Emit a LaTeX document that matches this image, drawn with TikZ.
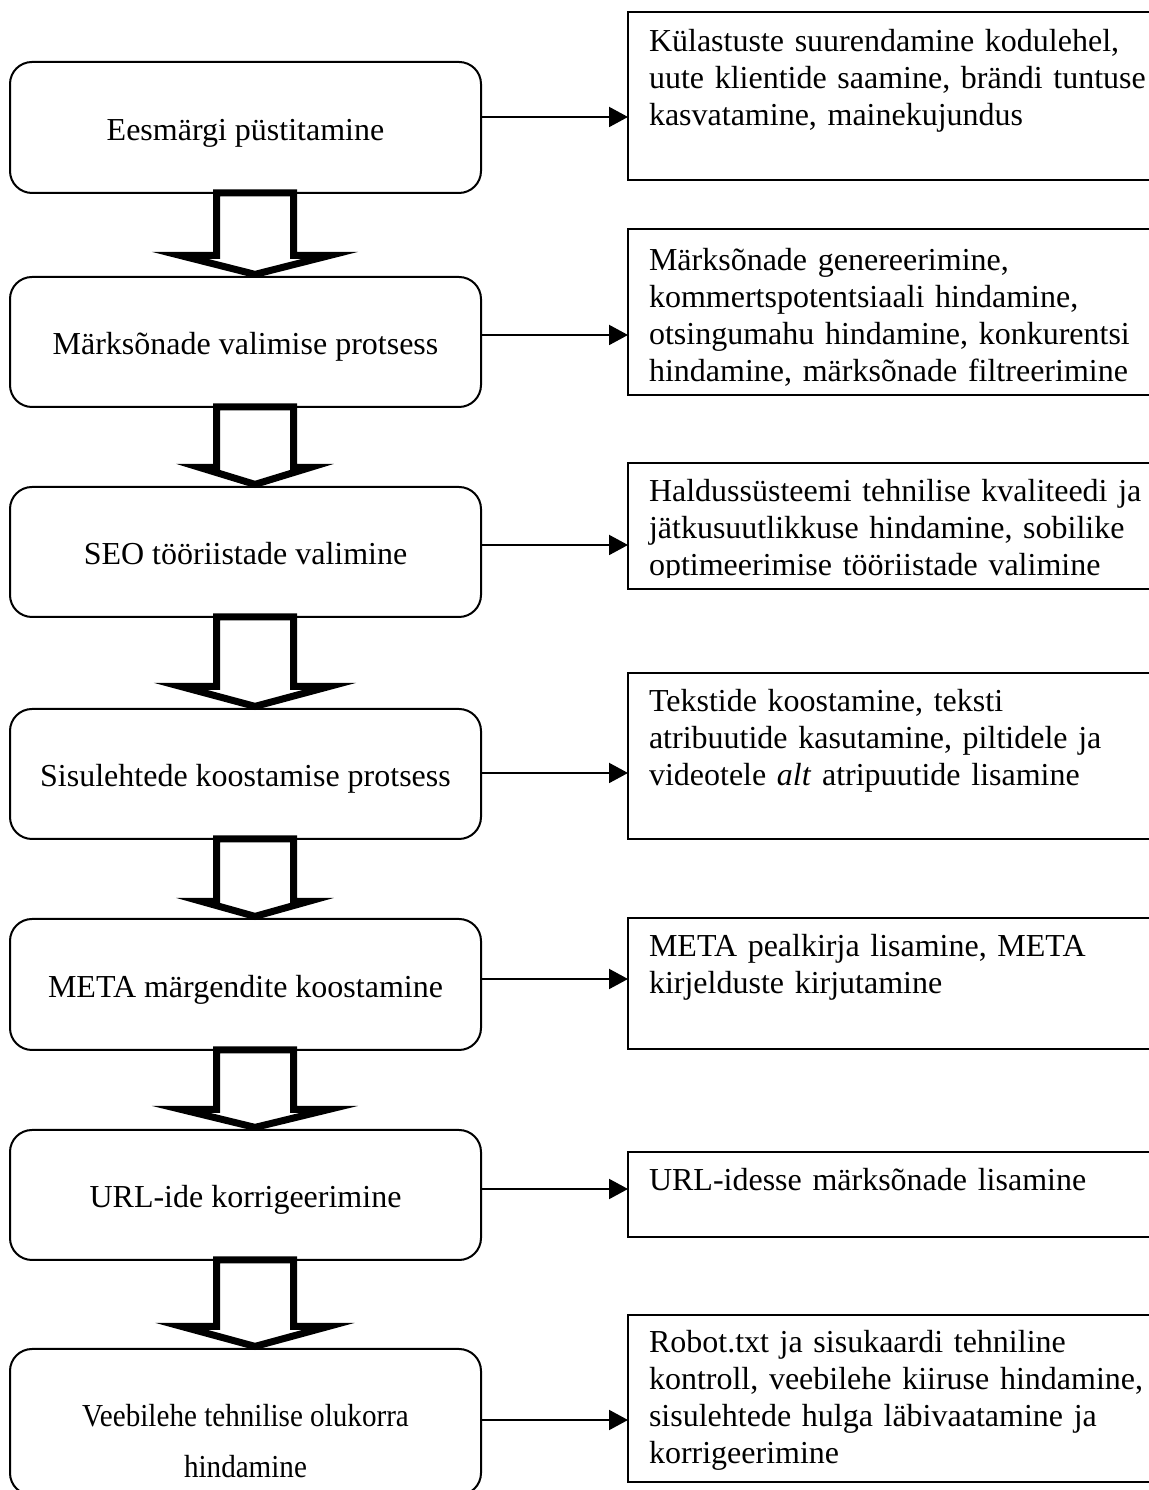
\documentclass[tikz,border=0pt]{standalone}
\usepackage{fontspec}
\setmainfont{Liberation Serif}
\newfontfamily\narrowserif[FakeStretch=0.91]{Liberation Serif}
\usetikzlibrary{arrows.meta,calc}
\setlength\parindent{0pt}
\lineskiplimit=-100pt

\tikzset{
  stage/.style={draw, line width=2pt, rounded corners=22pt, minimum width=471pt,
    minimum height=130pt, inner sep=0pt, outer sep=0pt,
    font=\fontsize{32pt}{36.8pt}\selectfont, text height=26pt, text depth=0pt},
  detail/.style={draw, line width=2pt, minimum width=540pt, inner sep=0pt,
    outer sep=0pt, anchor=north west},
  detailtext/.style={anchor=north west, inner sep=0pt, outer sep=0pt,
    text width=520pt, align=left,
    font=\fontsize{32pt}{36.8pt}\selectfont},
  link/.style={line width=2pt, -{Triangle[length=19pt,width=20pt]}},
  flowarrow/.style={draw=black, fill=white, line width=7pt, line join=miter,
    miter limit=10},
}

% hollow block arrow from the bottom of #1 down to the top of #2;
% #3 = half width of the head, #4 = height of the head
\newcommand\flowdown[4]{%
  \draw[flowarrow] let \p1=(#1.south), \p2=(#2.north) in
    (\x1-29pt,\y1) -- (\x1-29pt,\y2+2.6pt+#4) -- (\x1+9.5pt-#3,\y2+2.6pt+#4)
    -- (\x1+9.5pt,\y2+2.6pt) -- (\x1+9.5pt+#3,\y2+2.6pt+#4)
    -- (\x1+48pt,\y2+2.6pt+#4) -- (\x1+48pt,\y1) -- cycle;
}

\begin{document}
\begin{tikzpicture}[x=1pt,y=1pt]
\useasboundingbox (0,0) rectangle (1148,1490);
\fill[white] (0,0) rectangle (1148,1490);

% process steps
\node[stage, minimum height=131pt] (l1) at (245.5,1362.5) {Eesmärgi püstitamine};
\node[stage] (l2) at (245.5,1148) {Märksõnade valimise protsess};
\node[stage] (l3) at (245.5,938) {SEO tööriistade valimine};
\node[stage] (l4) at (245.5,716) {Sisulehtede koostamise protsess};
\node[stage, minimum height=131pt] (l5) at (245.5,505.5) {META märgendite koostamine};
\node[stage] (l6) at (245.5,295) {URL-ide korrigeerimine};
\node[stage, minimum height=146pt, text height=60pt, text depth=50pt,
  font=\narrowserif\fontsize{32pt}{51pt}\selectfont] (l7) at (245.5,68)
  {\vtop{\hbox to 460pt{\hss Veebilehe tehnilise olukorra\hss}\hbox to 460pt{\hss hindamine\hss}}};

% activities of each step
\node[detail, minimum height=168pt] (r1) at (628,1478) {};
\node[detailtext] (r1t) at ([xshift=21pt,yshift=-10pt]r1.north west)
  {\rule{0pt}{30pt}Külastuste suurendamine kodulehel,\\
   uute klientide saamine, brändi tuntuse\\
   kasvatamine, mainekujundus};

\node[detail, minimum height=166pt] (r2) at (628,1261) {};
\node[detailtext] (r2t) at ([xshift=21pt,yshift=-12pt]r2.north west)
  {\rule{0pt}{30pt}Märksõnade genereerimine,\\
   kommertspotentsiaali hindamine,\\
   otsingumahu hindamine, konkurentsi\\
   hindamine, märksõnade filtreerimine};

\node[detail, minimum height=126pt] (r3) at (628,1027) {};
\begin{scope}
  \clip (r3.north west) rectangle ([yshift=11pt]r3.south east);
  \node[detailtext] (r3t) at ([xshift=21pt,yshift=-9pt]r3.north west)
    {\rule{0pt}{30pt}Haldussüsteemi tehnilise kvaliteedi ja\\
     jätkusuutlikkuse hindamine, sobilike\\
     optimeerimise tööriistade valimine};
\end{scope}

\node[detail, minimum height=166pt] (r4) at (628,817) {};
\node[detailtext] (r4t) at ([xshift=21pt,yshift=-9pt]r4.north west)
  {\rule{0pt}{30pt}Tekstide koostamine, teksti\\
   atribuutide kasutamine, piltidele ja\\
   videotele \textit{alt} atripuutide lisamine};

\node[detail, minimum height=131pt] (r5) at (628,572) {};
\node[detailtext] (r5t) at ([xshift=21pt,yshift=-9pt]r5.north west)
  {\rule{0pt}{30pt}META pealkirja lisamine, META\\
   kirjelduste kirjutamine};

\node[detail, minimum height=85pt] (r6) at (628,338) {};
\node[detailtext] (r6t) at ([xshift=21pt,yshift=-9pt]r6.north west)
  {\rule{0pt}{30pt}URL-idesse märksõnade lisamine};

\node[detail, minimum height=167pt] (r7) at (628,175) {};
\node[detailtext] (r7t) at ([xshift=21pt,yshift=-8pt]r7.north west)
  {\rule{0pt}{30pt}Robot.txt ja sisukaardi tehniline\\
   kontroll, veebilehe kiiruse hindamine,\\
   sisulehtede hulga läbivaatamine ja\\
   korrigeerimine};

% links from each step to its activities
\coordinate (a1) at ([yshift=10.5pt]l1.east);
\coordinate (a2) at ([yshift=7pt]l2.east);
\coordinate (a3) at ([yshift=7pt]l3.east);
\coordinate (a4) at ([yshift=1pt]l4.east);
\coordinate (a5) at ([yshift=5.5pt]l5.east);
\coordinate (a6) at ([yshift=6pt]l6.east);
\coordinate (a7) at ([yshift=2pt]l7.east);
\foreach \i in {1,...,7}{
  \draw[link] (a\i) -- (a\i -| r\i.west);
}

% block arrows between consecutive steps
\flowdown{l1}{l2}{75pt}{19pt}
\flowdown{l2}{l3}{55.5pt}{17pt}
\flowdown{l3}{l4}{74.5pt}{20pt}
\flowdown{l4}{l5}{53.5pt}{15pt}
\flowdown{l5}{l6}{74pt}{18pt}
\flowdown{l6}{l7}{73.5pt}{20pt}
\end{tikzpicture}
\end{document}
